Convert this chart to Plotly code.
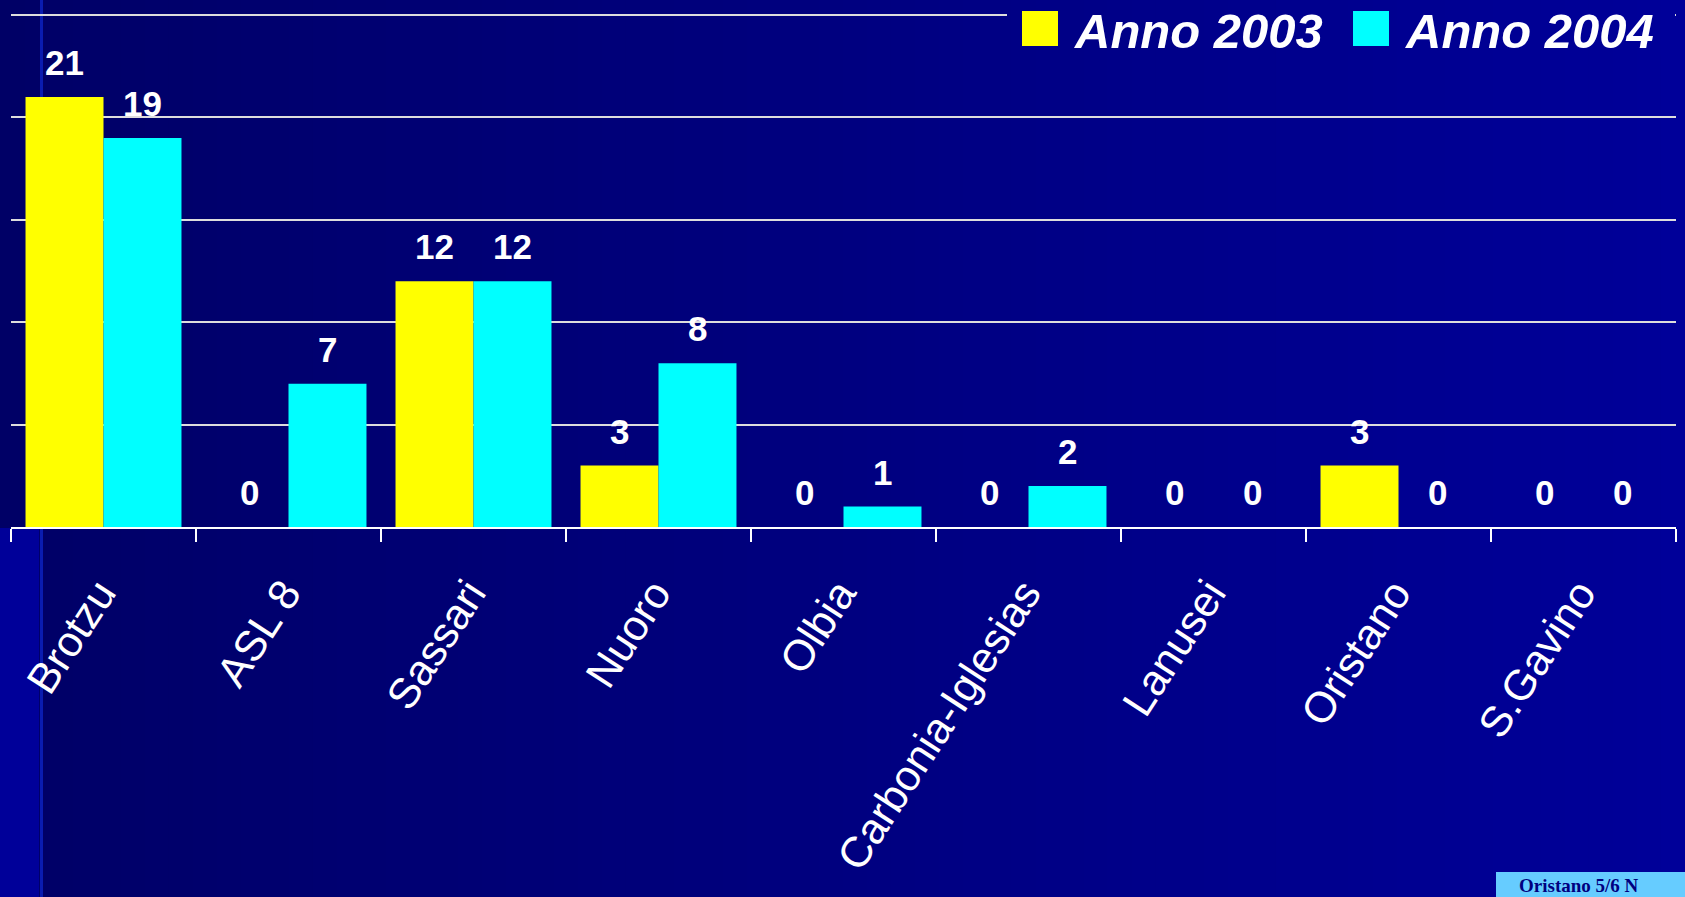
import plotly.graph_objects as go

categories = ["Brotzu", "ASL 8", "Sassari", "Nuoro", "Olbia", "Carbonia-Iglesias", "Lanusei", "Oristano", "S.Gavino"]
series_names = ["Anno 2003", "Anno 2004"]
values_2003 = [21, 0, 12, 3, 0, 0, 0, 3, 0]
values_2004 = [19, 7, 12, 8, 1, 2, 0, 0, 0]
series_values = [values_2003, values_2004]
series_colors = ["#FFFF00", "#00FFFF"]
footer_text = "Oristano 5/6 N"

W, H = 1685, 897
ML, MR, MT, MB = 11, 9, 13, 370
PW = W - ML - MR
PH = H - MT - MB


def px_x(px):
    return (px - ML) / PW


def px_y(py):
    return (H - MB - py) / PH


fig = go.Figure()
for name, vals, col in zip(series_names, series_values, series_colors):
    fig.add_trace(go.Bar(x=categories, y=vals, name=name, marker=dict(color=col, line=dict(width=0)),
                         showlegend=False, hoverinfo="x+y"))

shapes = []
# horizontal gradient background
N = 70
c0, c1 = 0x66, 0x99
for i in range(N):
    x0 = W * i / N
    x1 = W * (i + 1) / N + 1
    b = round(c0 + (c1 - c0) * (i + 0.5) / N)
    shapes.append(dict(type="rect", xref="paper", yref="paper", x0=px_x(x0), x1=px_x(x1),
                       y0=px_y(H), y1=px_y(0), fillcolor=f"rgb(0,0,{b})", line=dict(width=0), layer="below"))
# left strip below plot area
shapes.append(dict(type="rect", xref="paper", yref="paper", x0=px_x(0), x1=px_x(39),
                   y0=px_y(H), y1=px_y(528), fillcolor="#000099", line=dict(width=0), layer="below"))
shapes.append(dict(type="line", xref="paper", yref="paper", x0=px_x(41.5), x1=px_x(41.5),
                   y0=px_y(H), y1=px_y(0), line=dict(color="#0A1CB0", width=3), layer="below"))

# cover behind legend (hides top gridline)
for i in range(N):
    x0 = W * i / N
    x1 = W * (i + 1) / N + 1
    if x1 < 1007:
        continue
    x0 = max(x0, 1007)
    b = round(c0 + (c1 - c0) * (i + 0.5) / N)
    shapes.append(dict(type="rect", xref="paper", yref="paper", x0=px_x(x0), x1=px_x(min(x1, 1675)),
                       y0=px_y(56), y1=px_y(0), fillcolor=f"rgb(0,0,{b})", line=dict(width=0), layer="above"))

annotations = []
# manual legend
leg_sq_x = [1022, 1353]
leg_txt_x = [1072, 1403]
for name, col, sx, tx in zip(series_names, series_colors, leg_sq_x, leg_txt_x):
    shapes.append(dict(type="rect", xref="paper", yref="paper", x0=px_x(sx), x1=px_x(sx + 36),
                       y0=px_y(46), y1=px_y(11), fillcolor=col, line=dict(width=0), layer="above"))
    annotations.append(dict(text=name, xref="paper", yref="paper", x=px_x(tx), y=px_y(31),
                            xanchor="left", yanchor="middle", showarrow=False,
                            font=dict(family="Arial, Liberation Sans", size=49, color="white",
                                      weight="bold", style="italic")))

# value labels
half = 39
for k, vals in enumerate(series_values):
    shift = -half if k == 0 else half
    for c, v in zip(categories, vals):
        annotations.append(dict(text=f"<b>{v}</b>", x=c, y=v, xref="x", yref="y", xshift=shift,
                                yshift=13, yanchor="bottom", showarrow=False,
                                font=dict(family="Arial, Liberation Sans", size=35, color="white")))

# footer box
shapes.append(dict(type="rect", xref="paper", yref="paper", x0=px_x(1496), x1=px_x(W + 5),
                   y0=px_y(H + 5), y1=px_y(872), fillcolor="#66CCFF", line=dict(width=0), layer="above"))
annotations.append(dict(text=f"<b>{footer_text}</b>", xref="paper", yref="paper", x=px_x(1517), y=px_y(885),
                        xanchor="left", yanchor="middle", showarrow=False,
                        font=dict(family="Liberation Serif, Times New Roman, serif", size=19, color="#000080")))

fig.update_layout(
    width=W, height=H,
    margin=dict(l=ML, r=MR, t=MT, b=MB, autoexpand=False),
    paper_bgcolor="#000080",
    plot_bgcolor="rgba(0,0,0,0)",
    barmode="group", bargap=0.157, bargroupgap=0,
    shapes=shapes, annotations=annotations,
    showlegend=False,
)
fig.update_xaxes(
    showline=True, linecolor="white", linewidth=2,
    ticks="outside", tickson="boundaries", ticklen=13, tickcolor="white", tickwidth=2,
    tickangle=-57, ticklabelstandoff=22, ticklabelshift=-4,
    tickfont=dict(family="Arial, Liberation Sans", size=43, color="white"),
    showgrid=False, zeroline=False,
)
fig.update_yaxes(
    range=[0, 25.1], tickvals=[5, 10, 15, 20, 25], showticklabels=False, showgrid=True,
    gridcolor="#DDDDDD", gridwidth=2, zeroline=False, showline=False, ticks="",
)

fig.write_html("out.html", config={"displayModeBar": False},
               post_script="document.body.style.margin='0px';document.body.style.overflow='hidden';")
